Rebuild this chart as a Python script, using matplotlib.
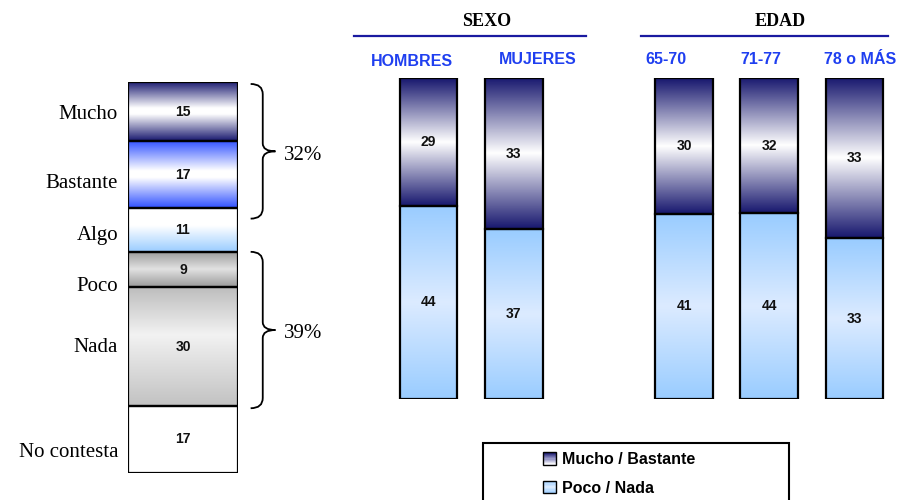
import numpy as np
import matplotlib
matplotlib.use("Agg")
import matplotlib.pyplot as plt
from matplotlib.colors import LinearSegmentedColormap
from matplotlib.path import Path
from matplotlib.patches import PathPatch, Rectangle, Patch
from matplotlib.lines import Line2D
from matplotlib.legend_handler import HandlerBase
import matplotlib.transforms as mtransforms

# ---------------- data ----------------
escala_cats = ['Mucho', 'Bastante', 'Algo', 'Poco', 'Nada', 'No contesta']
escala_vals = [15, 17, 11, 9, 30, 17]

grupos = ['HOMBRES', 'MUJERES', '65-70', '71-77', '78 o MÁS']
mucho_bastante = [29, 33, 30, 32, 33]
poco_nada = [44, 37, 41, 44, 33]
bloques = ['SEXO', 'EDAD']
legend_labels = ['Mucho / Bastante', 'Poco / Nada']

# ---------------- style ----------------
SERIF = 'Liberation Serif'
SANS = 'Liberation Sans'
W, H = 898, 500
NAVY = '#17176e'
cm_mucho = LinearSegmentedColormap.from_list('m', [(0, NAVY), (0.45, 'white'), (0.55, 'white'), (1, NAVY)])
cm_bast = LinearSegmentedColormap.from_list('b', [(0, '#2f50ff'), (0.45, 'white'), (0.55, 'white'), (1, '#2f50ff')])
cm_algo = LinearSegmentedColormap.from_list('a', [(0, 'white'), (0.4, 'white'), (1, '#99ccff')])
cm_poco = LinearSegmentedColormap.from_list('p', [(0, '#9a9a9a'), (0.5, '#e2e2e2'), (1, '#9a9a9a')])
cm_nada = LinearSegmentedColormap.from_list('n', [(0, '#bdbdbd'), (0.4, '#f2f2f2'), (1, '#c2c2c2')])
cm_nc = LinearSegmentedColormap.from_list('w', ['white', 'white'])
left_cmaps = [cm_mucho, cm_bast, cm_algo, cm_poco, cm_nada, cm_nc]
cm_top = LinearSegmentedColormap.from_list('t', [(0, NAVY), (0.5, 'white'), (1, NAVY)])
cm_bot = LinearSegmentedColormap.from_list('u', [(0, '#99ccff'), (0.5, '#dcebff'), (1, '#99ccff')])
label_dy = [0.8, 2.3, 1.3, 4.3, 0.3, 3.3]
cat_dx = [-0.2, 0.28, -0.21, -0.1, 0.07]
cat_y = [61, 59, 59, 59, 59]
positions = [0, 1, 3, 4, 5]
BLUE_TXT = '#1f3ff0'

fig = plt.figure(figsize=(W / 100, H / 100), dpi=100)
fig.patch.set_facecolor('white')

grad = np.linspace(0, 1, 256).reshape(-1, 1)


def grad_bar(ax, x, bottom, height, width, cmap):
    ax.imshow(grad, cmap=cmap, extent=(x - width / 2, x + width / 2, bottom, bottom + height),
              origin='lower', aspect='auto', interpolation='bilinear', zorder=1)
    ax.bar(x, height, bottom=bottom, width=width, fill=False, edgecolor='black', lw=1.6, zorder=3)


# ---------------- left stacked bar ----------------
axL = fig.add_axes([128 / W, (H - 473) / H, 110 / W, 391 / H])
total = sum(escala_vals)
cum = np.concatenate([[0], np.cumsum(escala_vals)[:-1]])
blendL = mtransforms.blended_transform_factory(axL.transAxes, axL.transData)
for cat, v, b, cm, dy in zip(escala_cats, escala_vals, cum, left_cmaps, label_dy):
    grad_bar(axL, 0, b, v, 1.0, cm)
    axL.text(0, b + v / 2, str(v), ha='center', va='center', family=SANS, weight='bold',
             fontsize=10, color='#111111', zorder=4)
    axL.text(-0.09, b + v / 2 + dy, cat, transform=blendL, ha='right', va='center',
             family=SERIF, fontsize=15, color='black')
axL.set_xlim(-0.5, 0.5)
axL.set_ylim(total, 0)
axL.axis('off')


def brace(ax, ya, yb, xl=1.115, xs=1.225, xt=1.34, ry=2.6, rt=2.0):
    ym = (ya + yb) / 2
    verts = [(xl, ya), (xs, ya), (xs, ya + ry), (xs, ym - rt), (xs, ym), (xt, ym),
             (xs, ym), (xs, ym + rt), (xs, yb - ry), (xs, yb), (xl, yb)]
    codes = [Path.MOVETO, Path.CURVE3, Path.CURVE3, Path.LINETO, Path.CURVE3, Path.CURVE3,
             Path.CURVE3, Path.CURVE3, Path.LINETO, Path.CURVE3, Path.CURVE3]
    tr = mtransforms.blended_transform_factory(ax.transAxes, ax.transData)
    ax.add_patch(PathPatch(Path(verts, codes), fill=False, lw=1.3, edgecolor='black',
                           transform=tr, clip_on=False))
    return ym


# brace groups: Mucho+Bastante and Poco+Nada
groups_idx = [(0, 1), (3, 4)]
pads = [(0.5, 2.6), (0.0, 0.6)]
for (i0, i1), (p0, p1) in zip(groups_idx, pads):
    ya = cum[i0] + p0
    yb = cum[i1] + escala_vals[i1] + p1
    ym = brace(axL, ya, yb)
    pct = escala_vals[i0] + escala_vals[i1]
    axL.text(1.42, ym + 1, f'{pct}%', transform=blendL, ha='left', va='center',
             family=SERIF, fontsize=15, color='black')

# ---------------- right 100% bars ----------------
unit = 85.2
x0c = 428.5
axR = fig.add_axes([(x0c - 0.5 * unit) / W, (H - 399) / H, 6 * unit / W, 321 / H])
bw = 0.68
blendR = mtransforms.blended_transform_factory(axR.transData, fig.transFigure)
for i, (g, mb, pn, x) in enumerate(zip(grupos, mucho_bastante, poco_nada, positions)):
    tot = mb + pn
    p_pn = pn / tot * 100
    p_mb = mb / tot * 100
    grad_bar(axR, x, 0, p_pn, bw, cm_bot)
    grad_bar(axR, x, p_pn, p_mb, bw, cm_top)
    axR.text(x, p_pn / 2, str(pn), ha='center', va='center', family=SANS, weight='bold',
             fontsize=10, color='#111111', zorder=4)
    axR.text(x, p_pn + p_mb / 2, str(mb), ha='center', va='center', family=SANS, weight='bold',
             fontsize=10, color='#111111', zorder=4)
    axR.text(x + cat_dx[i], 1 - cat_y[i] / H, g, transform=blendR, ha='center', va='center',
             family=SANS, weight='bold', fontsize=11.5, color=BLUE_TXT)
axR.set_xlim(-0.5, 5.5)
axR.set_ylim(0, 100)
axR.axis('off')

# group headers
header_px = [(354, 586, 487), (641, 888, 780)]
for name, (l, r, c) in zip(bloques, header_px):
    fig.add_artist(Line2D([l / W, r / W], [1 - 36 / H, 1 - 36 / H], transform=fig.transFigure,
                          color='#1a1aa0', lw=1.6))
    fig.text(c / W, 1 - 21 / H, name, ha='center', va='center', family=SERIF,
             weight='bold', fontsize=13, color='black')

# ---------------- legend ----------------
fig.add_artist(Rectangle((483 / W, -0.05), (789 - 483) / W, (1 - 443 / H) + 0.05,
                         transform=fig.transFigure, fill=False, edgecolor='black', lw=1.5))


class GradHandler(HandlerBase):
    def __init__(self, cmap):
        super().__init__()
        self.cmap = cmap

    def create_artists(self, legend, orig_handle, xdescent, ydescent, width, height, fontsize, trans):
        arts = []
        n = 10
        x0, y0 = -xdescent, -ydescent
        for k in range(n):
            arts.append(Rectangle((x0, y0 + k * height / n), width, height / n,
                                  facecolor=self.cmap(1 - (k + 0.5) / n), edgecolor='none',
                                  transform=trans))
        arts.append(Rectangle((x0, y0), width, height, fill=False, edgecolor='black', lw=1.0,
                              transform=trans))
        return arts


cm_leg1 = LinearSegmentedColormap.from_list('l1', [NAVY, '#8c8cc0', 'white'])
cm_leg2 = LinearSegmentedColormap.from_list('l2', ['#99ccff', '#e0eeff', '#99ccff'])
h1, h2 = Patch(), Patch()
fig.legend([h1, h2], legend_labels, handler_map={h1: GradHandler(cm_leg1), h2: GradHandler(cm_leg2)},
           loc='upper left', bbox_to_anchor=(543 / W, 1 - 452 / H), frameon=False,
           borderaxespad=0, borderpad=0,
           handlelength=0.8, handleheight=0.8, handletextpad=0.4, labelspacing=0.85,
           prop={'family': SANS, 'weight': 'bold', 'size': 11.5})

fig.savefig('out.png', dpi=100, facecolor='white')
